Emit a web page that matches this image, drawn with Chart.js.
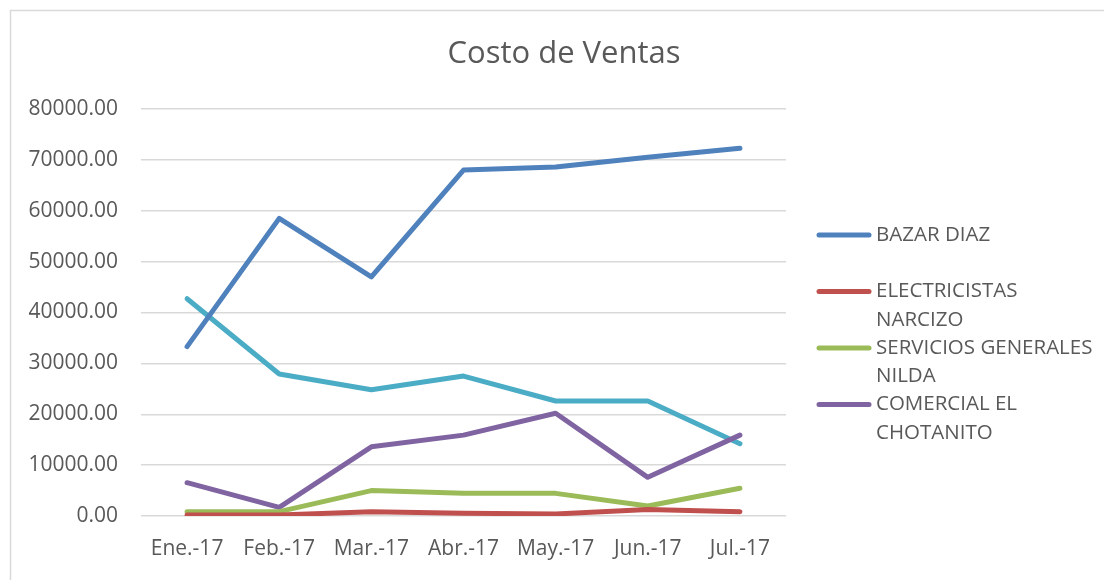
<!DOCTYPE html>
<html>
<head>
<meta charset="utf-8">
<script src="https://cdn.jsdelivr.net/npm/chart.js@4"></script>
<style>
  html, body { margin: 0; padding: 0; background: #fff; overflow: hidden; }
  #wrap { position: absolute; left: 0; top: 0; width: 1104px; height: 580px; }
</style>
</head>
<body>
<div id="wrap"><canvas id="grafico" width="1104" height="580"></canvas></div>
<script>
const meses = ["Ene.-17", "Feb.-17", "Mar.-17", "Abr.-17", "May.-17", "Jun.-17", "Jul.-17"];

const bazarDiaz = [33300, 58500, 47000, 68000, 68600, 70500, 72300];
const electricistasNarcizo = [200, 200, 850, 550, 400, 1300, 850];
const serviciosNilda = [850, 850, 5000, 4450, 4450, 1950, 5450];
const comercialChotanito = [6550, 1700, 13600, 15900, 20200, 7600, 15900];
const serieSinNombre = [42700, 27900, 24800, 27500, 22600, 22600, 14200];

const nombres = [
  ["BAZAR DIAZ"],
  ["ELECTRICISTAS", "NARCIZO"],
  ["SERVICIOS GENERALES", "NILDA"],
  ["COMERCIAL EL", "CHOTANITO"],
  [],
];
const colores = ["#4f81bd", "#c0504d", "#9bbb59", "#8064a2", "#4bacc6"];
const ticksY = [0, 10000, 20000, 30000, 40000, 50000, 60000, 70000, 80000];

const gris = "#595959";
const fuente = "'Open Sans', 'Liberation Sans', sans-serif";

function serie(nombre, datos, color) {
  return {
    label: nombre.join(" "),
    data: datos,
    borderColor: color,
    backgroundColor: color,
    borderWidth: 5,
    pointRadius: 0,
    pointHoverRadius: 0,
    tension: 0,
    borderCapStyle: "round",
    borderJoinStyle: "round",
  };
}

// marco, titulo y leyenda dibujados a mano
const extras = {
  id: "extras",
  beforeDraw(chart) {
    const ctx = chart.ctx;
    ctx.save();
    ctx.strokeStyle = "#d9d9d9";
    ctx.lineWidth = 1.5;
    ctx.strokeRect(10.5, 10.5, 1200, 700);
    ctx.restore();
  },
  afterDraw(chart) {
    const ctx = chart.ctx;
    ctx.save();
    ctx.fillStyle = gris;
    ctx.textAlign = "center";
    ctx.textBaseline = "middle";
    ctx.font = "31px " + fuente;
    ctx.fillText("Costo de Ventas", 564, 54);

    ctx.textAlign = "left";
    ctx.font = "20.5px " + fuente;
    let y = 235;
    chart.data.datasets.forEach((ds, i) => {
      const lineas = nombres[i];
      if (!lineas.length) return;
      ctx.strokeStyle = ds.borderColor;
      ctx.lineWidth = 5;
      ctx.lineCap = "round";
      ctx.beginPath();
      ctx.moveTo(819, y);
      ctx.lineTo(869, y);
      ctx.stroke();
      lineas.forEach((t, k) => {
        ctx.fillText(t, 876, y + k * 28.5);
      });
      y += 56.5;
    });
    ctx.restore();
  },
};

new Chart(document.getElementById("grafico"), {
  type: "line",
  data: {
    labels: meses,
    datasets: [
      serie(nombres[0], bazarDiaz, colores[0]),
      serie(nombres[1], electricistasNarcizo, colores[1]),
      serie(nombres[2], serviciosNilda, colores[2]),
      serie(nombres[3], comercialChotanito, colores[3]),
      serie(nombres[4], serieSinNombre, colores[4]),
    ],
  },
  options: {
    responsive: false,
    animation: false,
    events: [],
    layout: {
      padding: { top: 109, right: 318, bottom: 0, left: 0 },
    },
    plugins: {
      legend: { display: false },
      title: { display: false },
      tooltip: { enabled: false },
    },
    scales: {
      x: {
        offset: true,
        grid: { display: false, drawTicks: false },
        border: { display: false },
        ticks: {
          color: gris,
          padding: 20,
          maxRotation: 0,
          font: { family: fuente, size: 21 },
        },
        afterFit(scale) {
          scale.height = 64;
        },
      },
      y: {
        min: 0,
        max: 80000,
        afterBuildTicks(scale) {
          scale.ticks = ticksY.map((v) => ({ value: v }));
        },
        grid: { color: "#d9d9d9", lineWidth: 1.5, drawTicks: false },
        border: { display: false },
        ticks: {
          color: gris,
          padding: 23,
          font: { family: fuente, size: 21 },
          callback: (v) => Number(v).toFixed(2),
        },
        afterFit(scale) {
          scale.width = 141;
        },
      },
    },
  },
  plugins: [extras],
});
</script>
</body>
</html>
